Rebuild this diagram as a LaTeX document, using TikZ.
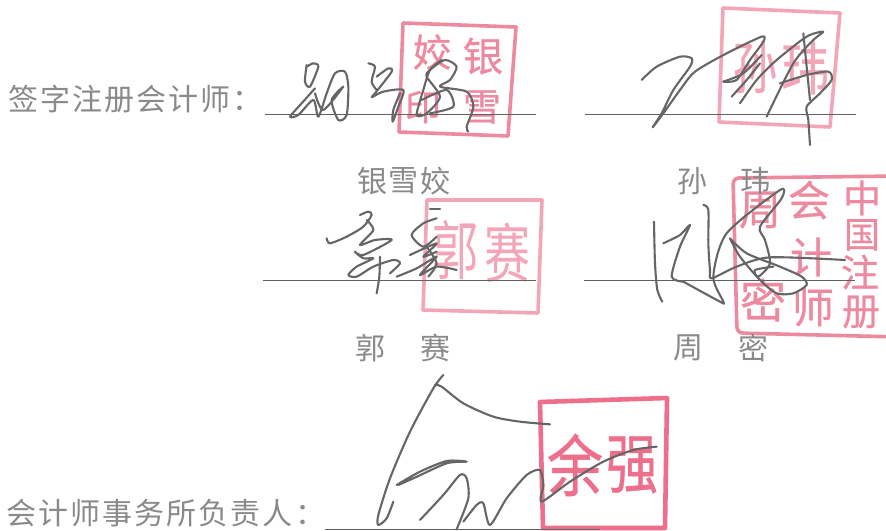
\documentclass[tikz,border=0pt]{standalone}
\usepackage{fontspec}
\newfontfamily\cjk{Noto Sans CJK SC}
\newfontfamily\cjkm[FakeBold=0.7]{Noto Sans CJK SC}
\newfontfamily\cjkspaced[LetterSpace=7]{Noto Sans CJK SC}
\definecolor{inkgray}{HTML}{8A8A8A}
\definecolor{penk}{HTML}{666666}
\definecolor{seala}{HTML}{EE8AA0}
\definecolor{sealb}{HTML}{F3A6B8}
\definecolor{sealc}{HTML}{EE6F8C}
\tikzset{
  print/.style={font=\cjk\fontsize{30}{30}\selectfont,text=inkgray,inner sep=0pt},
  wide/.style={font=\cjkspaced\fontsize{30}{30}\selectfont,text=inkgray,inner sep=0pt,anchor=west},
  rule/.style={draw=black!62,line width=1pt},
  pen/.style={draw=penk,line width=2.1pt,line cap=round,line join=round},
  frame/.style={line width=3.6pt,line join=round},
  glyph/.style={font=\cjk\fontsize{#1}{#1}\selectfont,inner sep=0pt},
  heavy/.style={font=\cjkm\fontsize{#1}{#1}\selectfont,inner sep=0pt}
}
\newcommand{\stroke}[1]{\draw[pen] plot[smooth,tension=0.45] coordinates {#1};}
\begin{document}
\begin{tikzpicture}[x=1pt,y=-1pt]
\useasboundingbox (0,0) rectangle (886,530);
\fill[white] (0,0) rectangle (886,530);
% stamps
\draw[frame,draw=seala] (403,23) -- (516,27) -- (508,136) -- (399,132) -- cycle;
\node[heavy=40,text=seala] (yin) at (483,56) {银};
\node[heavy=38,text=seala] (xue) at (482,107) {雪};
\node[heavy=38,text=seala] (jiao) at (432,52) {姣};
\node[heavy=36,text=seala] (yinb) at (423,107) {印};
\draw[frame,draw=sealb] (723,8) -- (840,13) -- (830,127) -- (719,122) -- cycle;
\node[heavy=44,text=sealb,yscale=1.3] (sun) at (755,67) {孙};
\node[heavy=48,text=sealb,yscale=1.2] (wei) at (805,68) {玮};
\draw[frame,draw=sealb] (427,200) -- (542,200) -- (538,313) -- (423,310) -- cycle;
\node[glyph=46,text=sealb,yscale=1.4] (guo) at (455,250) {郭};
\node[glyph=46,text=sealb,yscale=1.4] (sai) at (507,253) {赛};
\draw[frame,draw=seala,rounded corners=6pt] (900,176) -- (733,178) -- (737,333) -- (900,337);
\node[heavy=38,text=seala] (zhong) at (862,198) {中};
\node[heavy=36,text=seala] (guob) at (862,235) {国};
\node[heavy=38,text=seala] (zhu) at (860,272) {注};
\node[heavy=38,text=seala] (ce) at (861,312) {册};
\node[heavy=42,text=seala] (hui) at (809,200) {会};
\node[heavy=42,text=seala] (ji) at (811,257) {计};
\node[heavy=42,text=seala] (shi) at (813,307) {师};
\node[heavy=42,text=seala] (zhou) at (760,210) {周};
\node[heavy=46,text=seala] (mi) at (763,300) {密};
\draw[frame,draw=sealc,line width=4.6pt] (540,402) -- (667,398) -- (665,528) -- (543,528) -- cycle;
\node[heavy=56,text=sealc,yscale=1.2] (yu) at (575,465) {余};
\node[heavy=52,text=sealc,yscale=1.25] (qiang) at (632,465) {强};
% printed text
\node[wide] (title) at (8,99) {签字注册会计师：};
\node[wide] (boss) at (6,513) {会计师事务所负责人：};
\node[print] (n1a) at (372,181) {银};
\node[print] (n1b) at (403,181) {雪};
\node[print] (n1c) at (435,181) {姣};
\node[print] (n2a) at (692,181) {孙};
\node[print] (n2b) at (755,181) {玮};
\node[print] (n3a) at (370,348) {郭};
\node[print] (n3b) at (435,348) {赛};
\node[print] (n4a) at (688,348) {周};
\node[print] (n4b) at (753,348) {密};
% rules
\coordinate (l1a) at (265,114); \coordinate (l1b) at (536,114);
\coordinate (l2a) at (585,114); \coordinate (l2b) at (856,114);
\coordinate (l3a) at (263,280); \coordinate (l3b) at (536,280);
\coordinate (l4a) at (584,280); \coordinate (l4b) at (855,280);
\coordinate (l5a) at (325,529); \coordinate (l5b) at (600,529);
\draw[rule] (l1a) -- (l1b);
\draw[rule] (l2a) -- (l2b);
\draw[rule] (l3a) -- (l3b);
\draw[rule] (l4a) -- (l4b);
\draw[rule] (l5a) -- (l5b);
% signature 1
\begin{scope}[shift={(260,10)},scale=0.3333]
\stroke{(140,165)(135,215)(150,230)(175,170)(160,160)(140,170)}
\stroke{(165,235)(125,280)(90,320)(115,315)(160,270)(175,320)(200,250)(225,190)(255,185)(265,230)(260,315)(235,330)(215,270)(250,230)(190,300)(165,250)}
\stroke{(325,160)(345,170)(335,215)(350,240)}
\stroke{(350,200)(385,175)(395,185)(345,250)(335,262)(370,245)(430,240)(415,290)(398,335)(400,300)(420,250)}
\stroke{(545,150)(510,180)(490,240)(470,315)(500,310)(540,260)(500,200)(510,180)(555,150)(590,170)(570,210)(540,230)(620,245)(640,290)(620,350)(625,365)}
\stroke{(485,270)(560,240)(580,290)(510,310)}
\end{scope}
% signature 2
\begin{scope}[shift={(580,0)},scale=0.3333]
\stroke{(185,240)(230,200)(300,170)(335,175)(330,200)(280,270)(245,340)(218,382)(250,340)(300,270)(345,215)(440,160)(545,110)(550,125)(510,180)(470,240)(430,245)}
\stroke{(430,245)(490,220)(545,165)}
\stroke{(455,290)(500,240)(540,190)}
\stroke{(480,310)(530,240)(590,180)(680,110)(730,95)(700,120)(640,190)(560,350)}
\stroke{(600,250)(680,225)(745,215)(755,240)(720,280)(680,320)(685,360)(690,435)}
\stroke{(670,100)(680,200)(690,300)}
\end{scope}
% signature 3
\begin{scope}[shift={(260,180)},scale=0.3333]
\stroke{(300,105)(325,95)(335,105)(310,140)(260,170)(210,190)(200,175)}
\stroke{(320,120)(340,150)(300,195)(345,180)(395,180)(310,225)(285,215)(310,235)(340,235)(290,260)(265,285)(290,290)(340,260)(400,240)(420,250)(390,280)}
\stroke{(360,230)(358,290)(350,340)}
\stroke{(510,88)(540,88)}
\stroke{(530,115)(490,130)(455,165)(490,200)(530,170)}
\stroke{(450,225)(530,190)(490,230)(530,215)}
\stroke{(410,290)(470,265)(530,230)(480,285)(530,260)(590,270)}
\stroke{(500,200)(530,250)(505,290)}
\end{scope}
% signature 4
\begin{scope}[shift={(580,170)},scale=0.3333]
\stroke{(222,155)(225,280)(232,360)(247,395)}
\stroke{(250,220)(300,195)(330,165)(300,230)(275,320)(310,335)}
\stroke{(370,105)(385,120)(385,220)(390,300)(395,325)(470,290)(570,262)(795,270)}
\stroke{(310,335)(420,395)(430,395)(400,320)(440,190)(600,60)(605,85)(540,170)(555,210)(570,280)(535,320)(525,300)(580,290)}
\stroke{(450,205)(500,250)(600,290)(665,320)(680,345)(640,370)(590,370)(540,330)(480,260)(450,205)}
\end{scope}
% signature 5
\begin{scope}[shift={(320,375)},scale=0.3333]
\stroke{(370,0)(340,40)(270,170)(210,310)(175,420)(175,450)(200,430)(220,380)}
\stroke{(345,30)(365,35)(430,85)(520,125)(600,140)(690,148)}
\stroke{(230,330)(300,290)(380,258)(440,260)(380,265)(280,310)(235,330)}
\stroke{(300,435)(370,360)(420,300)(440,310)(445,370)(410,463)}
\stroke{(430,440)(470,390)(490,385)(510,450)(560,370)(620,300)(660,285)(670,330)(665,380)(750,320)(850,260)(940,225)(1010,215)}
\end{scope}
\end{tikzpicture}
\end{document}
